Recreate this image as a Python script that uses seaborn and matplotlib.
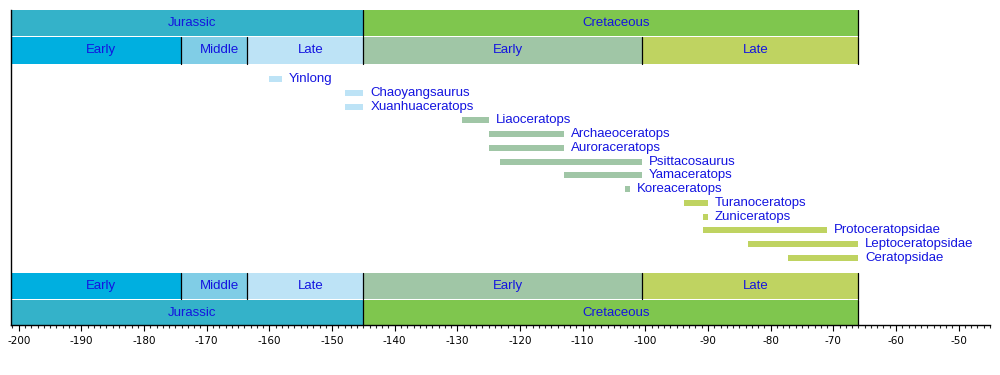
import matplotlib
matplotlib.use("Agg")
import matplotlib.pyplot as plt
import seaborn as sns
from matplotlib.ticker import MultipleLocator

# geologic time scale (Ma, negative = before present)
periods = ["Jurassic", "Cretaceous"]
period_start = [-201.3, -145.0]
period_end = [-145.0, -66.0]
period_colors = ["#34b2c9", "#7fc64e"]

epochs = ["Early", "Middle", "Late", "Early", "Late"]
epoch_start = [-201.3, -174.1, -163.5, -145.0, -100.5]
epoch_end = [-174.1, -163.5, -145.0, -100.5, -66.0]
epoch_colors = ["#00afe0", "#80cde6", "#bde3f6", "#a0c6a6", "#bfd361"]

taxa = ["Yinlong", "Chaoyangsaurus", "Xuanhuaceratops", "Liaoceratops",
        "Archaeoceratops", "Auroraceratops", "Psittacosaurus", "Yamaceratops",
        "Koreaceratops", "Turanoceratops", "Zuniceratops", "Protoceratopsidae",
        "Leptoceratopsidae", "Ceratopsidae"]
taxa_start = [-160.0, -148.0, -148.0, -129.3, -125.0, -125.0, -123.2, -113.0,
              -103.3, -93.9, -90.8, -90.8, -83.6, -77.3]
taxa_end = [-158.0, -145.0, -145.0, -125.0, -113.0, -113.0, -100.5, -100.5,
            -102.4, -90.0, -90.0, -71.0, -66.0, -66.0]
taxa_epoch = [2, 2, 2, 3, 3, 3, 3, 3, 3, 4, 4, 4, 4, 4]

text_blue = "#1414e0"

sns.set_style("ticks")
plt.rcParams["font.family"] = ["Liberation Sans", "DejaVu Sans"]
plt.rcParams["axes.unicode_minus"] = False

fig = plt.figure(figsize=(10, 3.75), dpi=100)
# axes in pixel units vertically: y from 10 (top) to 325 (axis line)
ax = fig.add_axes([10.6 / 1000, 1 - 325 / 375, 979.4 / 1000, 315 / 375])
ax.set_xlim(-201.3, -45)
ax.set_ylim(325, 10)


def draw_band(y0, y1, names, starts, ends, colors):
    widths = [e - s for s, e in zip(starts, ends)]
    ax.barh([(y0 + y1) / 2] * len(names), widths, left=starts, height=y1 - y0,
            color=colors, edgecolor="none", zorder=2)
    for n, s, e in zip(names, starts, ends):
        ax.annotate(n, ((s + e) / 2, (y0 + y1) / 2), xytext=(4, 0),
                    textcoords="offset points", ha="center", va="center",
                    color=text_blue, fontsize=9.5, zorder=4)
        ax.plot([e, e], [y0, y1], color="black", lw=0.9, zorder=3)


# top bands
draw_band(10, 35.7, periods, period_start, period_end, period_colors)
draw_band(37.3, 63.7, epochs, epoch_start, epoch_end, epoch_colors)
# bottom bands
draw_band(273, 298.8, epochs, epoch_start, epoch_end, epoch_colors)
draw_band(300.2, 325.5, periods, period_start, period_end, period_colors)

# taxa ranges
row_y = [79 + 13.77 * i for i in range(len(taxa))]
ax.barh(row_y, [e - s for s, e in zip(taxa_start, taxa_end)], left=taxa_start,
        height=6, color=[epoch_colors[k] for k in taxa_epoch],
        edgecolor="none", zorder=2)
for name, y, e in zip(taxa, row_y, taxa_end):
    ax.annotate(name, (e, y), xytext=(5, 0), textcoords="offset points",
                ha="left", va="center", color=text_blue, fontsize=9.5)

ax.xaxis.set_major_locator(MultipleLocator(10))
ax.xaxis.set_minor_locator(MultipleLocator(1))
ax.tick_params(axis="x", which="major", length=4.5, width=0.8, labelsize=7.5,
               pad=3.5, colors="black")
ax.tick_params(axis="x", which="minor", length=2.5, width=0.8)
for lab in ax.get_xticklabels():
    lab.set_family("DejaVu Sans")
ax.set_yticks([])
for side in ["top", "right"]:
    ax.spines[side].set_visible(False)
ax.spines["left"].set_linewidth(1.0)
ax.spines["bottom"].set_linewidth(1.0)
ax.spines["left"].set_color("black")
ax.spines["bottom"].set_color("black")

fig.savefig("out.png", dpi=100)
